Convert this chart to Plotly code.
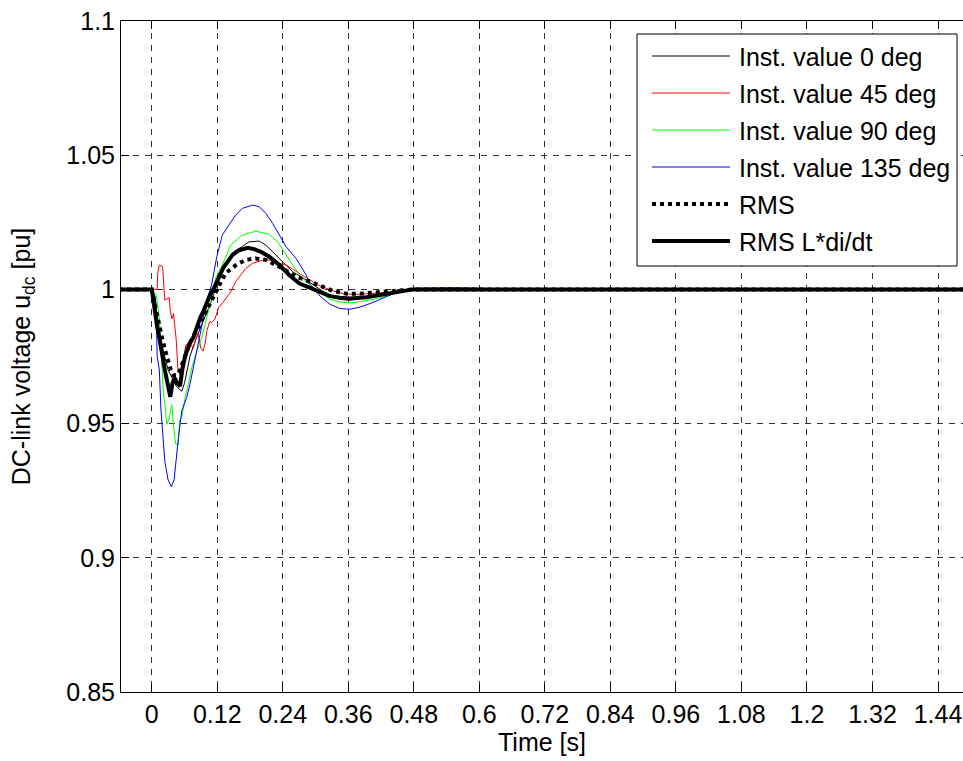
import plotly.graph_objects as go

# ---------------- data ----------------
t_0deg = [-0.06, 0.0, 0.005, 0.01, 0.015, 0.02, 0.025, 0.03, 0.035, 0.04, 0.045, 0.05, 0.055,
          0.06, 0.065, 0.07, 0.08, 0.09, 0.10, 0.11, 0.12, 0.13, 0.14, 0.15, 0.166, 0.178,
          0.197, 0.209, 0.2215, 0.24, 0.258, 0.283, 0.30, 0.3266, 0.3448, 0.363, 0.3934,
          0.43, 0.4542, 0.48, 1.5]
v_0deg = [1.0, 1.0, 0.997, 0.990, 0.984, 0.978, 0.974, 0.970, 0.968, 0.966, 0.964, 0.963, 0.962,
          0.965, 0.970, 0.975, 0.981, 0.986, 0.991, 0.996, 1.002, 1.007, 1.011, 1.014, 1.016, 1.0177,
          1.018, 1.0165, 1.014, 1.0103, 1.0066, 1.0035, 1.0012, 0.9975, 0.9963, 0.996, 0.9969,
          0.9981, 0.9994, 1.0, 1.0]

t_45deg = [-0.06, 0.0, 0.010, 0.011, 0.014, 0.020, 0.022, 0.024, 0.028, 0.032, 0.034, 0.037,
           0.040, 0.042, 0.045, 0.048, 0.052, 0.055, 0.058, 0.062, 0.066, 0.072, 0.076, 0.080,
           0.085, 0.090, 0.094, 0.098, 0.101, 0.106, 0.110, 0.116, 0.123, 0.130, 0.1446,
           0.1538, 0.1723, 0.1846, 0.203, 0.2184, 0.2338, 0.2461, 0.2707, 0.2892, 0.3045,
           0.3327, 0.351, 0.375, 0.3995, 0.43, 0.4542, 0.48, 1.5]
v_45deg = [1.0, 1.0, 1.0, 1.006, 1.009, 1.0085, 1.0, 0.996, 0.9965, 0.997, 0.992, 0.989,
           0.991, 0.986, 0.981, 0.970, 0.968, 0.9725, 0.973, 0.979, 0.980, 0.9795, 0.978, 0.981,
           0.9835, 0.978, 0.977, 0.980, 0.9846, 0.988, 0.9877, 0.989, 0.9935, 0.995, 0.9991,
           1.0029, 1.0078, 1.0097, 1.0109, 1.0109, 1.0097, 1.0091, 1.006, 1.0035, 1.0016,
           0.9994, 0.9984, 0.9981, 0.9984, 0.9989, 0.9994, 1.0, 1.0]

t_90deg = [-0.06, 0.0, 0.008, 0.012, 0.0153, 0.0183, 0.0214, 0.0244, 0.0275, 0.032, 0.0367,
           0.0397, 0.044, 0.0489, 0.0507, 0.055, 0.0611, 0.0672, 0.0733, 0.0825, 0.0917,
           0.1008, 0.11, 0.117, 0.1292, 0.1446, 0.1661, 0.1907, 0.2153, 0.2307, 0.2461,
           0.2707, 0.2892, 0.3084, 0.3266, 0.3448, 0.363, 0.3813, 0.4055, 0.4299, 0.4542,
           0.4785, 1.5]
v_90deg = [1.0, 1.0, 0.998, 0.993, 0.9857, 0.9733, 0.961, 0.957, 0.9497, 0.952, 0.957,
           0.9497, 0.9423, 0.9423, 0.951, 0.9522, 0.9597, 0.9646, 0.9708, 0.977, 0.982,
           0.9895, 0.997, 1.0041, 1.009, 1.0165, 1.0202, 1.0217, 1.0205, 1.0177, 1.0128,
           1.0053, 1.0016, 0.9988, 0.9963, 0.9953, 0.995, 0.9954, 0.9963, 0.9975, 0.9991,
           1.0, 1.0]

t_135deg = [-0.06, 0.0, 0.005, 0.008, 0.010, 0.014, 0.017, 0.020, 0.024, 0.030, 0.036, 0.041,
            0.043, 0.049, 0.055, 0.064, 0.070, 0.079, 0.0886, 0.1008, 0.110, 0.119, 0.1292,
            0.1415, 0.1538, 0.1661, 0.1846, 0.1969, 0.2092, 0.2215, 0.2338, 0.2461, 0.2645,
            0.283, 0.290, 0.3084, 0.3266, 0.3448, 0.363, 0.3813, 0.3995, 0.4177, 0.436,
            0.4542, 0.4785, 0.515, 0.5514, 0.60, 0.65, 1.5]
v_135deg = [1.0, 1.0, 0.998, 0.995, 0.975, 0.970, 0.955, 0.947, 0.936, 0.929, 0.9265, 0.929,
            0.9336, 0.9448, 0.9547, 0.9597, 0.9646, 0.9733, 0.9832, 0.9957, 1.002, 1.012, 1.0202,
            1.024, 1.0277, 1.0302, 1.0314, 1.0308, 1.0283, 1.0246, 1.0202, 1.0159, 1.0115,
            1.0053, 1.0019, 0.9975, 0.9944, 0.9929, 0.9926, 0.9934, 0.9947, 0.9963, 0.9979,
            0.9994, 1.0004, 1.0006, 1.0006, 1.0004, 1.0, 1.0]

t_rms = [-0.06, 0.0, 0.005, 0.01, 0.015, 0.02, 0.025, 0.03, 0.035, 0.04, 0.045, 0.05, 0.055,
         0.06, 0.065, 0.07, 0.075, 0.08, 0.09, 0.10, 0.11, 0.12, 0.135, 0.154, 0.172, 0.19,
         0.209, 0.24, 0.2645, 0.283, 0.30, 0.3084, 0.3327, 0.357, 0.3813, 0.4055, 0.43,
         0.4542, 0.48, 1.5]
v_rms = [1.0, 1.0, 0.995, 0.990, 0.985, 0.981, 0.977, 0.973, 0.970, 0.968, 0.968, 0.969, 0.972,
         0.975, 0.978, 0.980, 0.982, 0.984, 0.988, 0.992, 0.996, 1.0, 1.006, 1.009, 1.011, 1.0115,
         1.011, 1.0078, 1.0047, 1.0035, 1.0022, 1.0012, 0.9994, 0.9984, 0.9984, 0.9988, 0.9991,
         0.9996, 1.0, 1.0]

t_rms_ldi = [-0.06, 0.0, 0.003, 0.006, 0.010, 0.014, 0.017, 0.021, 0.024, 0.028, 0.031, 0.034,
             0.038, 0.042, 0.047, 0.052, 0.056, 0.061, 0.066, 0.070, 0.076, 0.082, 0.089, 0.095,
             0.101, 0.107, 0.113, 0.122, 0.131, 0.1477, 0.16, 0.1754, 0.1877, 0.2, 0.2153,
             0.2338, 0.2522, 0.2707, 0.29, 0.3084, 0.3266, 0.3448, 0.363, 0.3934, 0.4238,
             0.4542, 0.4785, 1.5]
v_rms_ldi = [1.0, 1.0, 0.996, 0.991, 0.986, 0.982, 0.978, 0.973, 0.970, 0.966, 0.962, 0.960,
             0.965, 0.967, 0.965, 0.964, 0.970, 0.975, 0.978, 0.980, 0.982, 0.986, 0.9895, 0.992,
             0.995, 0.998, 1.0, 1.004, 1.008, 1.0128, 1.0146, 1.0155, 1.015, 1.014, 1.0122,
             1.0091, 1.0053, 1.0022, 1.0006, 0.9988, 0.9975, 0.9969, 0.9966, 0.9971, 0.9981,
             0.9994, 1.0, 1.0]

x_tickvals = [0, 0.12, 0.24, 0.36, 0.48, 0.6, 0.72, 0.84, 0.96, 1.08, 1.2, 1.32, 1.44]
x_ticktext = ["0", "0.12", "0.24", "0.36", "0.48", "0.6", "0.72", "0.84", "0.96",
              "1.08", "1.2", "1.32", "1.44"]
y_tickvals = [0.85, 0.9, 0.95, 1.0, 1.05, 1.1]
y_ticktext = ["0.85", "0.9", "0.95", "1", "1.05", "1.1"]

series_names = ["Inst. value 0 deg", "Inst. value 45 deg", "Inst. value 90 deg",
                "Inst. value 135 deg", "RMS", "RMS L*di/dt"]

# ---------------- styling ----------------
FONT = "Liberation Sans, Arial, Helvetica, sans-serif"
FS = 25
W, H = 963, 761
ML, MR, MT, MB = 121, 0, 21, 69
PW, PH = W - ML - MR, H - MT - MB

styles = [
    dict(color="#000000", width=1, dash="solid"),
    dict(color="#ff0000", width=1, dash="solid"),
    dict(color="#00ff00", width=1, dash="solid"),
    dict(color="#0000ff", width=1, dash="solid"),
    dict(color="#000000", width=4, dash="dot"),
    dict(color="#000000", width=4, dash="solid"),
]
data = [(t_0deg, v_0deg), (t_45deg, v_45deg), (t_90deg, v_90deg),
        (t_135deg, v_135deg), (t_rms, v_rms), (t_rms_ldi, v_rms_ldi)]

fig = go.Figure()
for (tt, vv), name, st in zip(data, series_names, styles):
    fig.add_trace(go.Scatter(x=tt, y=vv, mode="lines", name=name, line=st,
                             showlegend=False))

# x range so that ticks 0 and 1.44 land at the same pixels as the reference
px_per_s = (938.0 - 151.7) / 1.44
x0 = (ML - 151.7) / px_per_s
x1 = (W - 151.7) / px_per_s

grid = dict(showgrid=True, gridcolor="#333333", gridwidth=1, griddash="6px,6px")

fig.update_xaxes(range=[x0, x1], tickvals=x_tickvals, ticktext=x_ticktext,
                 ticks="inside", ticklen=8, tickcolor="black", showline=True,
                 linecolor="black", linewidth=1, mirror="ticks", zeroline=False,
                 tickfont=dict(family=FONT, size=FS, color="black"),
                 title=dict(text="Time [s]", font=dict(family=FONT, size=FS, color="black"),
                            standoff=6),
                 **grid)
fig.update_yaxes(range=[0.85, 1.1], tickvals=y_tickvals, ticktext=y_ticktext,
                 ticks="inside", ticklen=8, tickcolor="black", showline=True,
                 linecolor="black", linewidth=1, mirror=False, zeroline=False,
                 tickfont=dict(family=FONT, size=FS, color="black"),
                 title=dict(text="DC-link voltage u<sub>dc</sub> [pu]",
                            font=dict(family=FONT, size=FS, color="black"), standoff=28),
                 **grid)

# ---------------- legend drawn in MATLAB style ----------------
def fx(px):
    return (px - ML) / PW

def fy(py):
    return (MT + PH - py) / PH

shapes = [dict(type="rect", xref="paper", yref="paper", x0=fx(637), x1=fx(957),
               y0=fy(266), y1=fy(34), fillcolor="white",
               line=dict(color="black", width=1), layer="above")]
annotations = []
for i, (name, st) in enumerate(zip(series_names, styles)):
    yrow = 56 + 37 * i
    shapes.append(dict(type="line", xref="paper", yref="paper", x0=fx(652), x1=fx(730),
                       y0=fy(yrow), y1=fy(yrow), layer="above",
                       line=dict(color=st["color"], width=st["width"], dash=st["dash"])))
    annotations.append(dict(xref="paper", yref="paper", x=fx(737), y=fy(yrow + 1),
                            xanchor="left", yanchor="middle", showarrow=False, text=name,
                            font=dict(family=FONT, size=FS, color="black")))

fig.update_layout(width=W, height=H, margin=dict(l=ML, r=MR, t=MT, b=MB, pad=0),
                  paper_bgcolor="white", plot_bgcolor="white", showlegend=False,
                  shapes=shapes, annotations=annotations,
                  font=dict(family=FONT, size=FS, color="black"))

fig.write_html("out.html",
               config={"displayModeBar": False},
               post_script="document.body.style.margin='0px';"
                           "document.body.style.overflow='hidden';")
